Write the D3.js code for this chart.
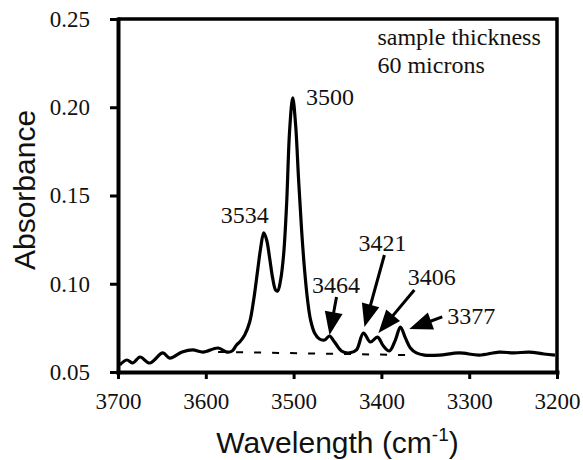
<!DOCTYPE html>
<html>
<head>
<meta charset="utf-8">
<script src="https://cdn.jsdelivr.net/npm/d3@7"></script>
<style>
    body { margin: 0; background: #fff; }
    svg { display: block; }
</style>
</head>
<body>
<div id="chart"></div>
<script>
// spectrum: wavenumber (cm-1) and absorbance
const wavenumbers = [3698, 3690, 3683, 3675, 3664, 3649, 3641, 3627, 3615, 3603, 3586, 3576, 3570, 3565,
    3561.4, 3555.7, 3550, 3545.5, 3540.9, 3537.5, 3534, 3530.7, 3527.3, 3523.9, 3520.5, 3518.2, 3514.8,
    3511.4, 3508, 3504.5, 3501, 3497.7, 3494.3, 3490.9, 3487.5, 3484.1, 3480.7, 3476.1, 3470.5, 3464.8,
    3459.1, 3453.4, 3445.5, 3436.4, 3428.4, 3420.5, 3412.5, 3404.5, 3397.7, 3390.9, 3384.1, 3378.4,
    3372.7, 3367, 3360.2, 3351.1, 3334.1, 3311.4, 3288.6, 3265.9, 3248.9, 3231.8, 3214.8, 3202.3];
const absorbance = [0.054, 0.0568, 0.0551, 0.0585, 0.0551, 0.0608, 0.0579, 0.0613, 0.0625, 0.0613, 0.0636, 0.0613, 0.0619, 0.0653,
    0.067, 0.071, 0.0783, 0.0908, 0.1078, 0.1203, 0.1288, 0.1248, 0.1146, 0.1033, 0.0965, 0.0959, 0.1021,
    0.1163, 0.1446, 0.1871, 0.2053, 0.19, 0.1588, 0.1305, 0.1078, 0.0908, 0.0795, 0.0721, 0.0687, 0.0681,
    0.0704, 0.067, 0.0619, 0.0608, 0.0625, 0.0721, 0.067, 0.0698, 0.0647, 0.0619, 0.0681, 0.0755,
    0.0693, 0.0636, 0.0608, 0.0596, 0.0596, 0.0608, 0.0596, 0.0613, 0.0608, 0.0613, 0.0602, 0.0596];

// dashed baseline under the peaks
const baselineWn = [3586, 3370];
const baselineAbs = [0.0614, 0.0596];

const xTicks = [3700, 3600, 3500, 3400, 3300, 3200];
const yTicks = [0.05, 0.10, 0.15, 0.20, 0.25];

// peak labels: text, anchor position (wn, abs), arrow tail and tip
const peakLabels = ["3500", "3534", "3464", "3421", "3406", "3377"];
const peakLabelWn = [3486, 3583, 3479, 3426, 3370, 3325];
const peakLabelAbs = [0.2013, 0.1344, 0.0948, 0.1186, 0.0993, 0.0772];
const arrowPeaks = ["3464", "3421", "3406", "3377"];
const arrowTailWn = [3451.1, 3396.6, 3362.5, 3330.7];
const arrowTailAbs = [0.0925, 0.1163, 0.0965, 0.0812];
const arrowTipWn = [3459.1, 3419.3, 3403.4, 3368.2];
const arrowTipAbs = [0.071, 0.0755, 0.0721, 0.0744];

const noteLines = ["sample thickness", "60 microns"];

const svg = { width: 583, height: 460, margin: { top: 19, right: 26, bottom: 88, left: 118 } };

const serifFont = '"Liberation Serif", "Times New Roman", Times, serif';
const sansFont = '"Liberation Sans", Arial, Helvetica, sans-serif';

const data = wavenumbers.map((w, i) => ({ wn: w, a: absorbance[i] }));

const x = d3.scaleLinear()
    .domain([3700, 3200])
    .range([svg.margin.left, svg.width - svg.margin.right]);

const y = d3.scaleLinear()
    .domain([0.05, 0.25])
    .range([svg.height - svg.margin.bottom, svg.margin.top]);

const chart = d3.select("#chart")
    .append("svg")
    .attr("width", svg.width)
    .attr("height", svg.height);

function serif(sel, size) {
    sel.style("font-family", serifFont).style("font-size", size + "px").style("fill", "#111");
}

// spectrum
chart.append("path")
    .datum(data)
    .attr("fill", "none")
    .attr("stroke", "#000")
    .attr("stroke-width", 3.2)
    .attr("stroke-linejoin", "round")
    .attr("d", d3.line().x(d => x(d.wn)).y(d => y(d.a)).curve(d3.curveCatmullRom.alpha(0.5)));

// baseline
chart.append("line")
    .attr("x1", x(baselineWn[0])).attr("y1", y(baselineAbs[0]))
    .attr("x2", x(baselineWn[1])).attr("y2", y(baselineAbs[1]))
    .attr("stroke", "#000")
    .attr("stroke-width", 2)
    .attr("stroke-dasharray", "7,11");

// frame top and right
chart.append("path")
    .attr("fill", "none")
    .attr("stroke", "#000")
    .attr("stroke-width", 3.5)
    .attr("d", `M${x(3700)},${y(0.25)}H${x(3200)}V${y(0.05)}`);

// axes
const xAxis = chart.append("g")
    .attr("transform", `translate(0,${y(0.05)})`)
    .call(d3.axisBottom(x).tickValues(xTicks).tickFormat(d3.format("d")).tickSize(7).tickPadding(14).tickSizeOuter(0));

const yAxis = chart.append("g")
    .attr("transform", `translate(${x(3700)},0)`)
    .call(d3.axisLeft(y).tickValues(yTicks).tickFormat(d3.format(".2f")).tickSize(8).tickPadding(20).tickSizeOuter(0));

[xAxis, yAxis].forEach(g => {
    g.select(".domain").attr("stroke", "#000").attr("stroke-width", 4).attr("stroke-linecap", "square");
    g.selectAll(".tick line").attr("stroke", "#000").attr("stroke-width", 3);
    g.selectAll(".tick text").call(serif, 23);
});

// axis titles
chart.append("text")
    .style("font-family", sansFont).style("font-size", "30px").style("fill", "#111")
    .attr("x", (x(3700) + x(3200)) / 2)
    .attr("y", 453)
    .attr("text-anchor", "middle")
    .html('Wavelength (cm<tspan dy="-12" style="font-size:19px">-1</tspan><tspan dy="12">)</tspan>');

chart.append("text")
    .style("font-family", sansFont).style("font-size", "30px").style("fill", "#111")
    .attr("transform", "translate(35,190) rotate(-90)")
    .attr("text-anchor", "middle")
    .text("Absorbance");

// note
chart.append("g")
    .selectAll("text")
    .data(noteLines)
    .join("text")
    .call(serif, 24)
    .attr("x", x(3404.5))
    .attr("y", (d, i) => y(0.2353) + i * 28)
    .text(d => d);

// peak labels
chart.append("g")
    .selectAll("text")
    .data(peakLabels)
    .join("text")
    .call(serif, 24)
    .attr("x", (d, i) => x(peakLabelWn[i]))
    .attr("y", (d, i) => y(peakLabelAbs[i]))
    .text(d => d);

// arrows
const arrows = chart.append("g");
arrowPeaks.forEach((p, i) => {
    const x1 = x(arrowTailWn[i]), y1 = y(arrowTailAbs[i]);
    const x2 = x(arrowTipWn[i]), y2 = y(arrowTipAbs[i]);
    const len = Math.hypot(x2 - x1, y2 - y1);
    const ux = (x2 - x1) / len, uy = (y2 - y1) / len;
    const headLen = 23, headW = 9;
    const bx = x2 - ux * headLen, by = y2 - uy * headLen;
    arrows.append("line")
        .attr("x1", x1).attr("y1", y1).attr("x2", bx + ux * 2).attr("y2", by + uy * 2)
        .attr("stroke", "#000").attr("stroke-width", 3);
    arrows.append("polygon")
        .attr("points", [[x2, y2], [bx - uy * headW, by + ux * headW], [bx + uy * headW, by - ux * headW]].join(" "))
        .attr("fill", "#000");
});
</script>
</body>
</html>
